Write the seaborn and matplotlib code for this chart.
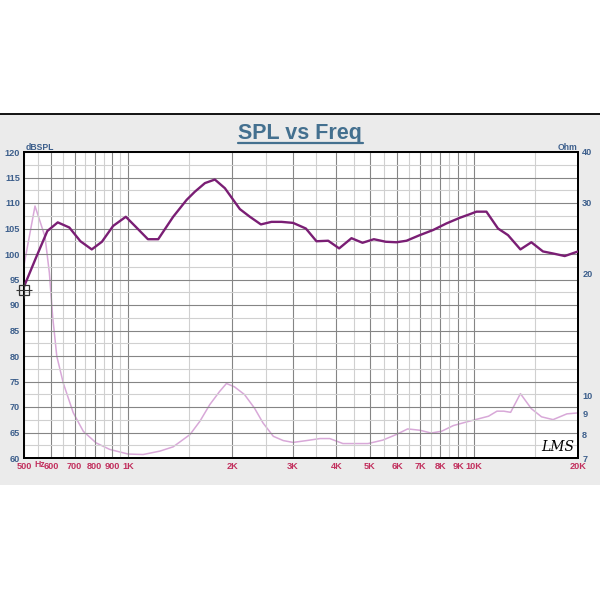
import numpy as np
import pandas as pd
import matplotlib
matplotlib.use("Agg")
import matplotlib.pyplot as plt
import seaborn as sns
from matplotlib.lines import Line2D
from matplotlib.patches import Rectangle
from matplotlib.ticker import FixedLocator, NullLocator, NullFormatter

# ---------------- data ----------------
spl_freq = [500, 541, 584, 626, 676, 728, 785, 840, 905, 985, 1057, 1141, 1222,
            1350, 1476, 1559, 1668, 1782, 1905, 2000, 2105, 2250, 2421, 2598,
            2778, 3000, 3266, 3506, 3790, 4077, 4426, 4763, 5137, 5560, 5972,
            6383, 6975, 7620, 8333, 9105, 9726, 10170, 10870, 11740, 12550,
            13630, 14660, 15840, 16940, 18310, 20000]
spl_db = [93.6, 99.2, 104.5, 106.2, 105.2, 102.5, 100.9, 102.4, 105.5, 107.3,
          105.2, 102.9, 102.9, 107.3, 110.6, 112.2, 113.9, 114.6, 112.9, 110.9,
          108.8, 107.3, 105.8, 106.3, 106.3, 106.1, 105.0, 102.5, 102.6, 101.1,
          103.1, 102.2, 102.9, 102.4, 102.3, 102.6, 103.7, 104.7, 106.0, 107.1,
          107.8, 108.3, 108.3, 105.0, 103.7, 100.9, 102.3, 100.5, 100.1, 99.6,
          100.5]

imp_freq = [500, 538, 575, 592, 605, 622, 650, 694, 742, 808, 885, 1000, 1105,
            1236, 1350, 1510, 1613, 1723, 1840, 1925, 2030, 2170, 2320, 2455,
            2630, 2810, 3000, 3280, 3590, 3830, 4180, 4570, 4940, 5450, 5960,
            6430, 6975, 7520, 8060, 8720, 9540, 10310, 11020, 11660, 12200,
            12770, 13630, 14660, 15690, 16940, 18570, 20000]
imp_ohm = [21.0, 29.4, 24.7, 20.1, 15.7, 12.5, 10.7, 9.06, 8.15, 7.63, 7.35,
           7.16, 7.14, 7.28, 7.46, 8.0, 8.63, 9.49, 10.23, 10.7, 10.5, 10.05,
           9.3, 8.55, 7.92, 7.73, 7.65, 7.73, 7.82, 7.82, 7.6, 7.6, 7.6, 7.75,
           8.0, 8.26, 8.2, 8.07, 8.15, 8.42, 8.6, 8.75, 8.88, 9.14, 9.14, 9.08,
           10.1, 9.27, 8.85, 8.71, 9.0, 9.05]

cursor_freq = [500]
cursor_db = [92.9]

x_tick_vals = [500, 600, 700, 800, 900, 1000, 2000, 3000, 4000, 5000, 6000,
               7000, 8000, 9000, 10000, 20000]
x_tick_labels = ["500", "600", "700", "800", "900", "1K", "2K", "3K", "4K",
                 "5K", "6K", "7K", "8K", "9K", "10K", "20K"]
x_minor_vals = [550, 650, 750, 850, 950, 1500, 2500, 3500, 4500, 5500, 6500,
                7500, 8500, 9500, 15000]
y_ticks = [60, 65, 70, 75, 80, 85, 90, 95, 100, 105, 110, 115, 120]
y_minor = [62.5, 67.5, 72.5, 77.5, 82.5, 87.5, 92.5, 97.5, 102.5, 107.5,
           112.5, 117.5]
imp_ticks = [7, 8, 9, 10, 20, 30, 40]

# ---------------- style ----------------
sns.set_style("white")
plt.rcParams["font.family"] = ["Liberation Sans", "DejaVu Sans"]

BLUE = "#3d5f8c"
RED = "#c2305e"
SPL_C = "#7a1e74"
IMP_C = "#d8a8d8"
FS = 6.6

fig = plt.figure(figsize=(6, 6), dpi=100)
fig.patch.set_facecolor("white")

# gray panel
fig.add_artist(Rectangle((0, 1 - 485 / 600), 1, (485 - 114) / 600,
                         transform=fig.transFigure, facecolor="#ebebeb",
                         edgecolor="none", zorder=-20))
fig.add_artist(Line2D([0, 1], [1 - 114 / 600] * 2, transform=fig.transFigure,
                      color="black", lw=1.3, zorder=-19))

ax = fig.add_axes([24 / 600, 1 - 458 / 600, (578 - 24) / 600, (458 - 152) / 600])
ax2 = ax.twinx()
ax2.set_zorder(1)
ax.set_zorder(2)
ax.patch.set_visible(False)
ax2.patch.set_visible(True)
ax2.patch.set_facecolor("white")

df_spl = pd.DataFrame({"freq": spl_freq, "db": spl_db})
df_imp = pd.DataFrame({"freq": imp_freq, "ohm": imp_ohm})

sns.lineplot(data=df_imp, x="freq", y="ohm", ax=ax2, color=IMP_C, lw=1.1)
sns.lineplot(data=df_spl, x="freq", y="db", ax=ax, color=SPL_C, lw=1.7,
             zorder=5)

ax.set_xscale("log")
ax.set_xlim(500, 20000)
ax.set_ylim(60, 120)
ax2.set_yscale("log")
ax2.set_ylim(7, 40)

# grid
ax.xaxis.set_major_locator(FixedLocator(x_tick_vals))
ax.xaxis.set_minor_locator(FixedLocator(x_minor_vals))
ax.yaxis.set_major_locator(FixedLocator(y_ticks))
ax.yaxis.set_minor_locator(FixedLocator(y_minor))
ax.xaxis.set_minor_formatter(NullFormatter())
ax.grid(which="major", color="#858585", lw=0.8, zorder=0)
ax.grid(which="minor", color="#d0d0d0", lw=0.8, zorder=0)
ax.set_axisbelow(True)

ax.set_xticklabels(x_tick_labels)
ax.set_yticklabels([str(v) for v in y_ticks])
ax.tick_params(axis="x", which="both", length=0, pad=3, labelsize=FS,
               labelcolor=RED)
ax.tick_params(axis="y", which="both", length=0, pad=3, labelsize=FS,
               labelcolor=BLUE)
for lab in ax.get_xticklabels() + ax.get_yticklabels():
    lab.set_fontweight("bold")

ax2.yaxis.set_major_locator(FixedLocator(imp_ticks))
ax2.yaxis.set_minor_locator(NullLocator())
ax2.set_yticklabels([str(v) for v in imp_ticks])
ax2.tick_params(axis="y", which="both", length=0, pad=3, labelsize=FS,
                labelcolor=BLUE)
for lab in ax2.get_yticklabels():
    lab.set_fontweight("bold")

ax.set_xlabel("")
ax.set_ylabel("")
ax2.set_ylabel("")

# cursor marker
ax.plot(cursor_freq, cursor_db, marker="s", ms=7, mfc="none", mec="#333333",
        mew=0.9, zorder=6, clip_on=False)
ax.plot(cursor_freq, cursor_db, marker="+", ms=11, mec="#333333", mew=0.8,
        zorder=6, clip_on=False)

for a in (ax, ax2):
    for s in a.spines.values():
        s.set_color("black")
        s.set_linewidth(1.4)

# texts
fig.text(300 / 600, 1 - 133 / 600, "SPL vs Freq", ha="center", va="center",
         fontsize=15.5, fontweight="bold", color="#44708f")
fig.add_artist(Line2D([238 / 600, 363 / 600], [1 - 143 / 600] * 2,
                      transform=fig.transFigure, color="#44708f", lw=1.6))
fig.text(26 / 600, 1 - 147 / 600, "dBSPL", ha="left", va="center",
         fontsize=6.2, fontweight="bold", color=BLUE)
fig.text(577 / 600, 1 - 147 / 600, "Ohm", ha="right", va="center",
         fontsize=6.2, fontweight="bold", color=BLUE)
fig.text(39.5 / 600, 1 - 464.5 / 600, "Hz", ha="center", va="center",
         fontsize=6.2, fontweight="bold", color=RED)
fig.text(558 / 600, 1 - 447 / 600, "LMS", ha="center", va="center",
         fontsize=10, fontstyle="italic", family="DejaVu Serif", color="black")

fig.savefig("out.png", dpi=100)
